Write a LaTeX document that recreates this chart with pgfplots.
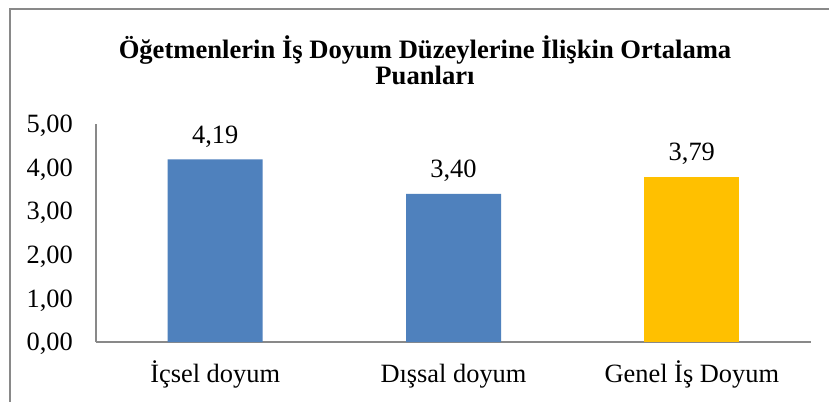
\documentclass[border=0pt]{standalone}
\usepackage{fontspec}
\setmainfont{Liberation Serif}
\usepackage{pgfplots}
\pgfplotsset{compat=1.18}
\definecolor{barblue}{HTML}{4F81BD}
\definecolor{bargold}{HTML}{FFC000}
\definecolor{axgray}{HTML}{898989}
\begin{document}
\begin{tikzpicture}[x=1bp,y=1bp]
\useasboundingbox (0,0) rectangle (829,401);
\fill[white] (0,0) rectangle (829,401);
\draw[axgray, line width=1.5bp] (10,-5) -- (10,392) -- (840,392);
\node[anchor=base, font=\bfseries\fontsize{26.6bp}{30bp}\selectfont, inner sep=0pt] at (425,343) {Öğetmenlerin İş Doyum Düzeylerine İlişkin Ortalama};
\node[anchor=base, font=\bfseries\fontsize{26.6bp}{30bp}\selectfont, inner sep=0pt] at (425,317) {Puanları};
\begin{axis}[
  at={(96bp,59bp)}, anchor=south west,
  scale only axis, width=715bp, height=218bp,
  xmin=-0.5, xmax=2.5, ymin=0, ymax=5,
  axis x line=bottom, axis y line=left,
  axis line style={-, axgray, line width=1.5bp},
  xtick={0,1,2},
  xticklabels={İçsel doyum, Dışsal doyum, Genel İş Doyum},
  ytick={0,1,2,3,4,5},
  major tick length=0pt,
  tick style={draw=none},
  /pgf/number format/assume math mode=true,
  /pgf/number format/.cd, fixed, fixed zerofill, precision=2, use comma,
  /pgfplots/.cd,
  ticklabel style={font=\fontsize{26.4bp}{30bp}\selectfont},
  yticklabel style={anchor=east, inner sep=0pt, xshift=-23bp, yshift=-2bp},
  xticklabel style={anchor=base, inner sep=0pt, yshift=-40bp},
  ybar, bar width=95bp, bar shift=0pt,
  nodes near coords,
  every node near coord/.append style={anchor=base, inner sep=0pt, yshift=16bp, font=\fontsize{26.4bp}{30bp}\selectfont, text=black},
  clip=false,
]
\addplot[fill=barblue, draw=none] coordinates {(0,4.19) (1,3.40)};
\addplot[fill=bargold, draw=none] coordinates {(2,3.79)};
\end{axis}
\end{tikzpicture}
\end{document}
